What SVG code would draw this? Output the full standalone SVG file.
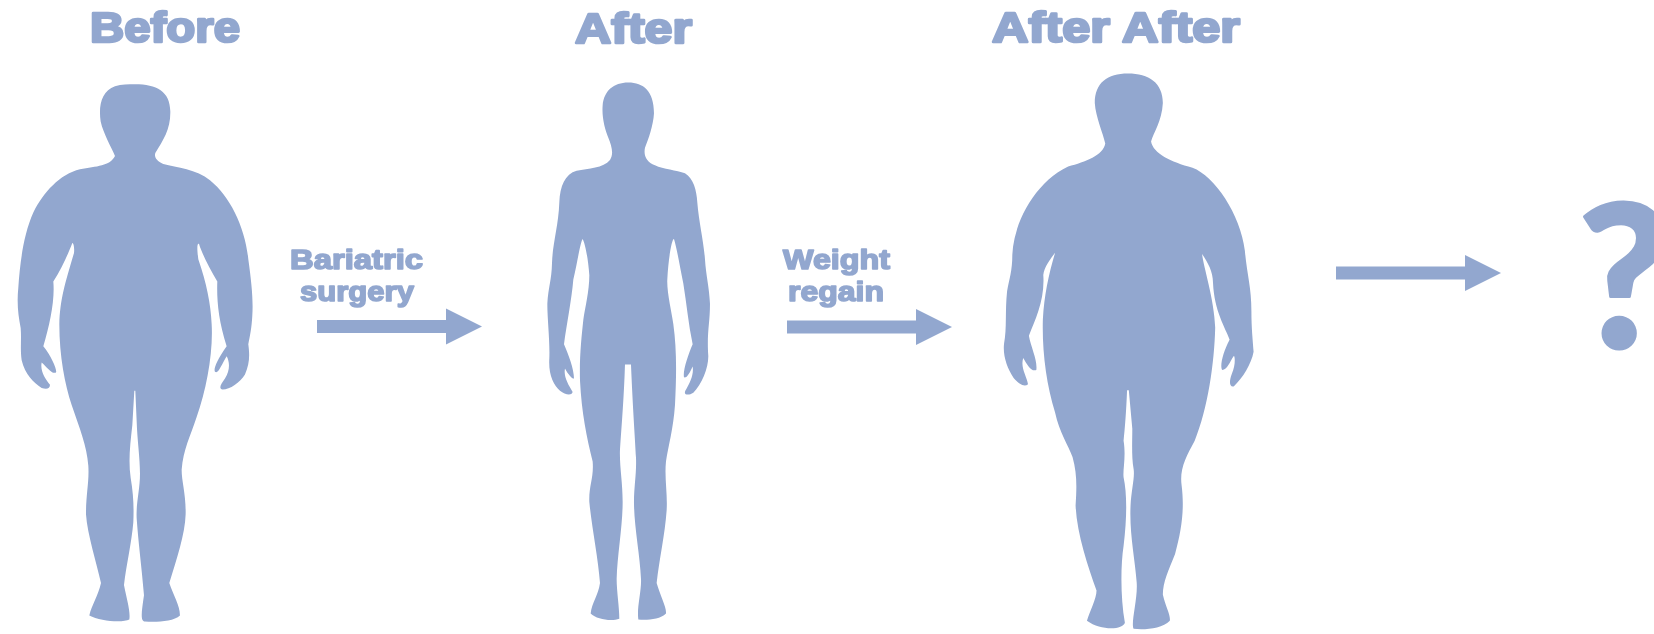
<svg xmlns="http://www.w3.org/2000/svg" width="1654" height="634" viewBox="0 0 1654 634">
<style>
.fig{fill:#92a7cf;filter:url(#soft)}
.t{font-family:"Liberation Sans",Arial,sans-serif;font-weight:700;fill:#92a7cf;stroke:#92a7cf;stroke-linejoin:round;filter:url(#soft2)}
.h{font-size:43px;stroke-width:2.6px}
.l{font-size:28px;stroke-width:1.6px}
.q{font-family:Lato,"Open Sans","Liberation Sans",sans-serif;font-weight:900;font-size:198px;fill:#92a7cf;stroke:#92a7cf;stroke-width:3px;stroke-linejoin:round}
.c{stroke:#92a7cf;stroke-width:13;fill:none;marker-end:url(#head)}
</style>
<defs>
<marker id="head" markerUnits="userSpaceOnUse" markerWidth="37" markerHeight="37" refX="0" refY="18" orient="auto" viewBox="0 0 37 36"><polygon points="0,0 36,18 0,36" fill="#92a7cf"/></marker>
<filter id="soft" x="-5%" y="-5%" width="110%" height="110%"><feGaussianBlur stdDeviation="0.8"/></filter>
<filter id="soft2" x="-5%" y="-10%" width="110%" height="120%"><feGaussianBlur stdDeviation="0.35"/></filter>
</defs>
<rect width="1654" height="634" fill="#fff"/>
<g id="before">
<path class="fig" transform="scale(0.3333,0.4049)" d="M405,208 C470,208 510,225 511,275 C512,320 490,345 466,378 C462,388 470,398 490,405 C530,414 590,418 630,445 C690,485 735,560 745,640 C755,700 760,740 757,780 C755,810 750,830 745,850 C750,880 748,900 735,925 C720,945 690,962 668,962 C655,960 662,950 675,935 C690,915 690,895 680,880 C665,900 655,925 645,918 C640,912 650,890 680,855 C655,790 650,740 652,695 C630,665 605,625 597,602 C592,600 590,610 595,640 C620,700 632,750 635,800 C640,870 620,960 590,1030 C570,1080 550,1110 545,1160 C545,1190 558,1220 557,1270 C555,1320 530,1380 508,1440 C520,1470 540,1495 540,1520 C520,1535 470,1537 435,1535 C420,1535 425,1510 432,1470 C425,1400 415,1340 410,1280 C408,1240 420,1210 420,1170 C420,1130 412,1090 410,1040 L406,965 L403,965 L397,1050 C390,1100 385,1140 392,1180 C400,1220 402,1250 400,1290 C395,1340 378,1400 372,1445 C380,1480 392,1510 388,1530 C370,1538 300,1535 268,1520 C275,1495 295,1470 303,1440 C290,1390 262,1320 258,1270 C258,1220 268,1190 265,1150 C260,1100 240,1060 215,1000 C195,950 178,880 178,800 C180,740 195,700 222,625 C224,610 220,600 217,600 C205,625 185,665 160,695 C165,740 150,800 130,855 C155,880 172,915 168,920 C155,925 140,905 125,895 C120,915 135,935 150,950 C150,960 140,962 125,958 C100,945 75,925 65,890 C60,860 65,840 62,810 C55,780 50,750 55,710 C60,650 70,580 100,525 C130,475 180,430 240,418 C290,410 330,410 345,385 C335,365 310,330 302,300 C295,260 305,225 345,213 C365,208 385,208 405,208 Z"/>
<text class="t h" x="90" y="42" textLength="150" lengthAdjust="spacingAndGlyphs">Before</text>
</g>
<g id="after">
<path class="fig" transform="translate(500,0) scale(0.3333,0.4049)" d="M385,204 C430,204 462,225 462,280 C460,310 445,345 435,365 C430,385 440,400 465,408 C490,418 530,420 555,428 C580,440 590,470 592,500 C597,550 610,590 615,640 C618,680 628,710 630,750 C630,800 620,820 625,880 C625,910 605,950 580,970 C565,978 550,975 556,965 C570,945 582,925 578,905 C570,920 560,935 552,932 C548,915 565,875 578,850 C565,800 560,750 550,700 C540,660 530,610 522,590 C515,590 505,640 502,690 C500,720 515,770 520,800 C530,860 530,920 525,1000 C520,1060 505,1100 498,1140 C493,1180 503,1220 500,1260 C495,1320 478,1380 470,1440 C480,1470 500,1500 498,1515 C480,1530 440,1532 415,1530 C410,1500 425,1460 423,1430 C420,1370 402,1300 402,1240 C402,1200 410,1170 408,1130 C405,1080 398,1000 393,900 L375,900 C372,980 365,1050 360,1110 C358,1150 368,1190 368,1240 C368,1300 352,1370 350,1430 C350,1460 358,1500 358,1528 C335,1535 290,1530 272,1515 C275,1490 295,1470 300,1440 C295,1380 275,1300 268,1240 C266,1200 282,1180 278,1140 C260,1080 245,1020 240,940 C238,880 245,830 250,790 C255,760 268,720 268,680 C265,640 255,600 248,590 C240,600 232,650 220,690 C215,740 200,800 192,850 C205,875 222,910 222,935 C215,935 205,925 195,910 C190,930 205,950 218,968 C215,978 195,975 180,965 C160,950 145,925 148,885 C150,840 142,790 142,750 C145,710 155,690 156,650 C158,600 175,560 178,500 C180,460 195,430 230,422 C265,416 310,415 330,395 C342,380 335,360 325,340 C315,320 305,290 308,260 C312,225 340,204 385,204 Z"/>
<text class="t h" x="575" y="42.500" textLength="117" lengthAdjust="spacingAndGlyphs">After</text>
</g>
<g id="after-after">
<path class="fig" transform="translate(970,0) scale(0.4363,0.4044)" d="M362,182 C410,182 442,205 442,255 C440,300 420,330 415,350 C420,380 460,400 510,415 C560,435 620,530 630,620 C635,680 645,710 645,770 C645,810 648,840 650,870 C645,900 625,935 605,955 C595,958 593,945 600,925 C608,905 608,885 605,880 C595,895 590,915 578,915 C572,905 580,870 595,840 C585,810 560,770 557,700 C557,670 545,650 532,628 C535,660 560,740 562,810 C560,900 545,1010 515,1090 C495,1130 480,1160 485,1200 C492,1260 485,1310 470,1370 C455,1410 442,1440 442,1470 C448,1500 460,1520 458,1535 C440,1555 400,1558 375,1555 C368,1540 385,1480 382,1440 C378,1380 365,1320 368,1250 C370,1210 378,1180 375,1160 C370,1130 372,1090 372,1060 L364,965 L360,965 C358,1020 355,1060 352,1090 C358,1130 350,1160 352,1180 C360,1220 360,1280 352,1350 C345,1400 345,1480 355,1540 C350,1558 300,1560 268,1535 C275,1510 290,1480 290,1460 C270,1400 245,1320 242,1250 C245,1200 245,1170 235,1130 C225,1100 205,1070 195,1020 C175,950 165,870 167,790 C170,730 180,680 195,625 C185,640 170,660 168,680 C172,740 150,790 135,830 C140,860 155,890 152,915 C140,920 130,900 122,885 C115,910 130,930 133,950 C125,958 112,950 100,935 C85,910 75,880 78,850 C85,810 80,770 85,720 C90,690 97,670 97,630 C100,550 150,450 225,412 C265,400 305,385 310,355 C305,330 288,290 286,255 C286,205 315,182 362,182 Z"/>
<text class="t h" x="992" y="42" textLength="248" lengthAdjust="spacingAndGlyphs">After After</text>
</g>
<g id="unknown"><text class="q" x="1578" y="348">?</text></g>
<g id="connectors">
<line class="c" x1="317" y1="326.500" x2="446" y2="326.500"/>
<line class="c" x1="787" y1="327" x2="916" y2="327"/>
<line class="c" x1="1336" y1="273" x2="1465" y2="273"/>
</g>
<g id="labels">
<text class="t l" x="290" y="269" textLength="133" lengthAdjust="spacingAndGlyphs">Bariatric</text>
<text class="t l" x="300" y="301" textLength="114" lengthAdjust="spacingAndGlyphs">surgery</text>
<text class="t l" x="783" y="269" textLength="107" lengthAdjust="spacingAndGlyphs">Weight</text>
<text class="t l" x="788" y="301" textLength="96" lengthAdjust="spacingAndGlyphs">regain</text>
</g>
</svg>
